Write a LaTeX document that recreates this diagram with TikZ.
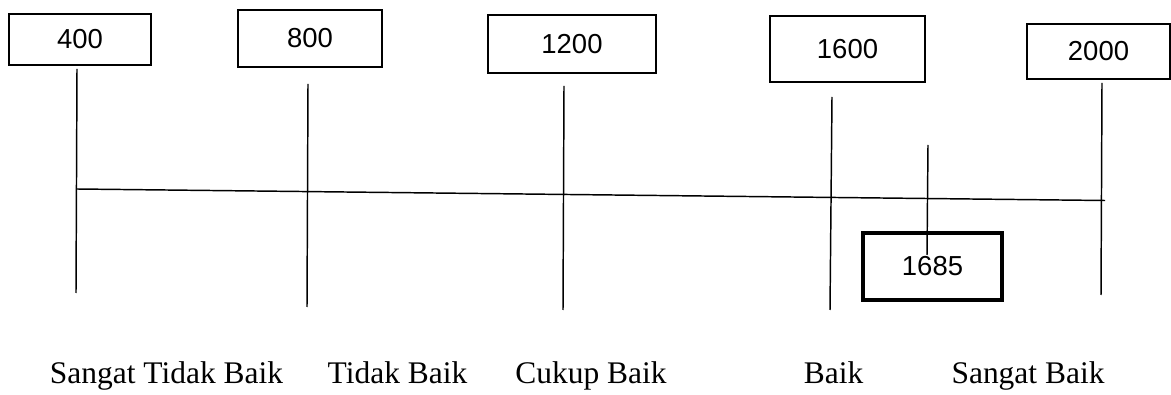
\documentclass[tikz,border=0pt]{standalone}
\usepackage{fontspec}
\setmainfont{Liberation Serif}
\newfontfamily\numfont{Liberation Sans}
\begin{document}
\begin{tikzpicture}[x=0.75pt,y=-0.75pt,
  valbox/.style={draw,line width=1.1pt,inner sep=0pt,font=\numfont\fontsize{20.6}{22}\selectfont},
  resbox/.style={valbox,line width=3pt},
  tick/.style={line width=1.1pt},
  scalelbl/.style={anchor=base,inner sep=0pt,font=\fontsize{23.6}{28}\selectfont}]
\useasboundingbox (0,0) rectangle (1171,395);
% value boxes
\node[valbox,minimum width=142*0.75pt,minimum height=51*0.75pt] (b400) at (80,39.5) {400};
\node[valbox,minimum width=144*0.75pt,minimum height=57*0.75pt] (b800) at (310,38.5) {800};
\node[valbox,minimum width=168*0.75pt,minimum height=58*0.75pt] (b1200) at (572,44) {1200};
\node[valbox,minimum width=155*0.75pt,minimum height=66*0.75pt] (b1600) at (847.5,49) {1600};
\node[valbox,minimum width=143*0.75pt,minimum height=55*0.75pt] (b2000) at (1098.5,51.5) {2000};
\node[resbox,minimum width=139*0.75pt,minimum height=67*0.75pt] (b1685) at (932.5,266.5) {1685};
% tick coordinates
\coordinate (t400a) at (77,69);   \coordinate (t400b) at (76,293);
\coordinate (t800a) at (308,84);  \coordinate (t800b) at (307,307);
\coordinate (t1200a) at (564,86); \coordinate (t1200b) at (563,310);
\coordinate (t1600a) at (832,97); \coordinate (t1600b) at (830,310);
\coordinate (t2000a) at (1102,83);\coordinate (t2000b) at (1101,295);
\coordinate (t1685a) at (928,145);\coordinate (t1685b) at (927,255);
\coordinate (axl) at (77,189);    \coordinate (axr) at (1105,200.5);
% lines
\draw[tick] (t400a) -- (t400b);
\draw[tick] (t800a) -- (t800b);
\draw[tick] (t1200a) -- (t1200b);
\draw[tick] (t1600a) -- (t1600b);
\draw[tick] (t2000a) -- (t2000b);
\draw[tick] (axl) -- (axr);
\draw[tick] (t1685a) -- (t1685b);
% category labels
\node[scalelbl] (l1) at (166.5,383) {Sangat Tidak Baik};
\node[scalelbl] (l2) at (397.5,383) {Tidak Baik};
\node[scalelbl] (l3) at (591,383) {Cukup Baik};
\node[scalelbl] (l4) at (833.5,383) {Baik};
\node[scalelbl] (l5) at (1028,383) {Sangat Baik};
\end{tikzpicture}
\end{document}
